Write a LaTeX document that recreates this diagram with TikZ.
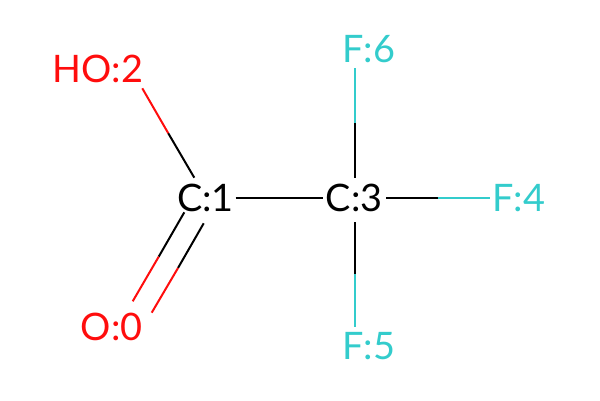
\documentclass[tikz,border=0pt]{standalone}
\usepackage{fontspec}
\setmainfont{Lato}
\definecolor{oxy}{RGB}{255,13,13}
\definecolor{flu}{RGB}{51,204,204}
\tikzset{atom/.style={inner sep=0pt,font=\fontsize{38}{42}\selectfont,anchor=center},
 bond/.style={line width=2bp}}
\begin{document}
\begin{tikzpicture}[x=1bp,y=-1bp]
\useasboundingbox (0,0) rectangle (600,400);
\fill[white] (0,0) rectangle (600,400);
\node[atom,text=oxy] (o2) at (98,69) {HO:2};
\node[atom] (c1) at (205.5,198) {C:1};
\node[atom] (c3) at (354.3,198) {C:3};
\node[atom,text=oxy] (o0) at (111.7,327) {O:0};
\node[atom,text=flu] (f6) at (369,49) {F:6};
\node[atom,text=flu] (f4) at (519,198) {F:4};
\node[atom,text=flu] (f5) at (369,346) {F:5};
\coordinate (oa) at (142.3,88.3); \coordinate (om) at (168.3,133.3); \coordinate (oc) at (194.3,177.7);
\coordinate (da) at (184.3,212.3); \coordinate (dm) at (158.7,256.7); \coordinate (db) at (132.7,301.3);
\coordinate (ea) at (203.7,223.3); \coordinate (em) at (178,268); \coordinate (eb) at (151.7,312.7);
\coordinate (ca) at (235.7,197.5); \coordinate (cb) at (323.3,197.5);
\coordinate (fa) at (386,197.5); \coordinate (fm) at (437.7,197.5); \coordinate (fb) at (490,197.5);
\coordinate (ga) at (354.5,68.3); \coordinate (gm) at (354.5,123.3); \coordinate (gb) at (354.5,178.3);
\coordinate (ha) at (354.5,222.3); \coordinate (hm) at (354.5,274.3); \coordinate (hb) at (354.5,326.7);
\draw[bond,oxy] (oa)--(om); \draw[bond] (om)--(oc);
\draw[bond] (da)--(dm); \draw[bond,oxy] (dm)--(db);
\draw[bond] (ea)--(em); \draw[bond,oxy] (em)--(eb);
\draw[bond] (ca)--(cb);
\draw[bond] (fa)--(fm); \draw[bond,flu] (fm)--(fb);
\draw[bond,flu] (ga)--(gm); \draw[bond] (gm)--(gb);
\draw[bond] (ha)--(hm); \draw[bond,flu] (hm)--(hb);
\end{tikzpicture}
\end{document}
